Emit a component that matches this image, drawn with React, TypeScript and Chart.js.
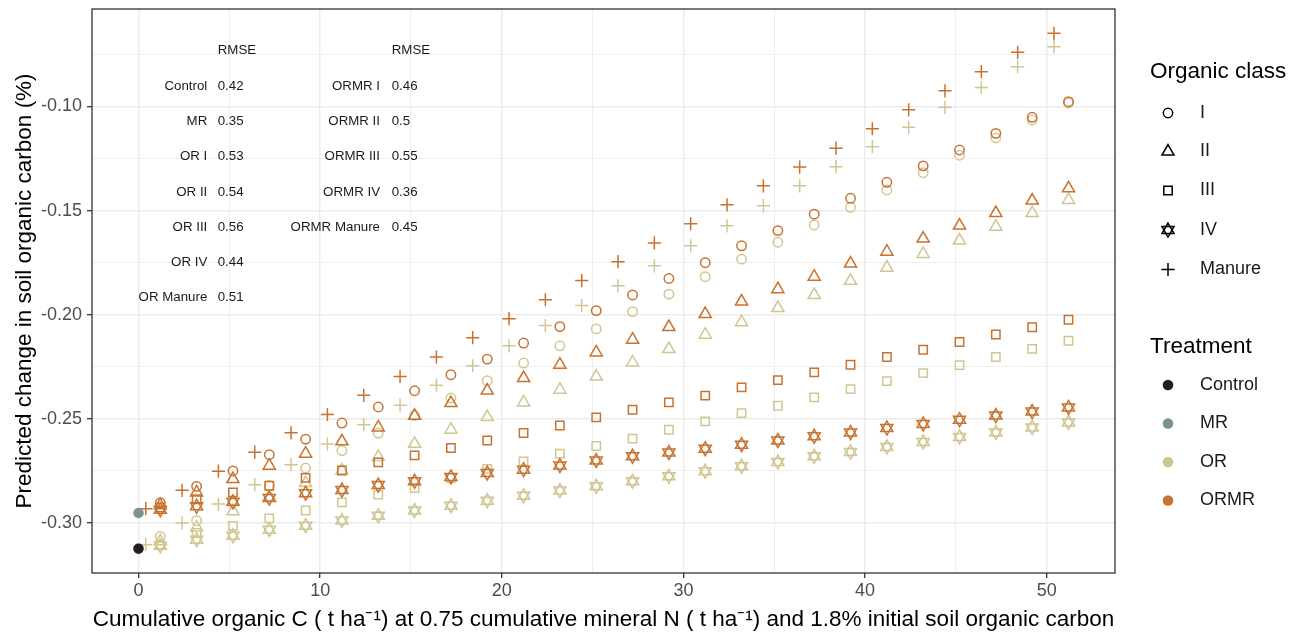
import React, { useEffect, useRef } from "react";
import { Chart, registerables } from "chart.js";

Chart.register(...registerables);

// ---------- data ----------
const xOrganic = [1.2, 3.2, 5.2, 7.2, 9.2, 11.2, 13.2, 15.2, 17.2, 19.2, 21.2, 23.2, 25.2, 27.2, 29.2, 31.2, 33.2, 35.2, 37.2, 39.2, 41.2, 43.2, 45.2, 47.2, 49.2, 51.2];
const xManure = [0.4, 2.4, 4.4, 6.4, 8.4, 10.4, 12.4, 14.4, 16.4, 18.4, 20.4, 22.4, 24.4, 26.4, 28.4, 30.4, 32.4, 34.4, 36.4, 38.4, 40.4, 42.4, 44.4, 46.4, 48.4, 50.4];

const ormrI = [-0.2903, -0.2824, -0.2750, -0.2672, -0.2597, -0.2520, -0.2443, -0.2365, -0.2288, -0.2213, -0.2136, -0.2057, -0.1980, -0.1905, -0.1826, -0.1750, -0.1669, -0.1596, -0.1517, -0.1441, -0.1364, -0.1285, -0.1209, -0.1129, -0.1052, -0.0977];
const orI = [-0.3064, -0.2989, -0.2905, -0.2820, -0.2736, -0.2652, -0.2568, -0.2484, -0.2400, -0.2317, -0.2232, -0.2149, -0.2068, -0.1985, -0.1901, -0.1817, -0.1733, -0.1652, -0.1569, -0.1484, -0.1401, -0.1318, -0.1234, -0.1151, -0.1065, -0.0983];
const ormrII = [-0.2915, -0.2853, -0.2789, -0.2725, -0.2667, -0.2608, -0.2541, -0.2485, -0.2424, -0.2364, -0.2304, -0.2240, -0.2181, -0.2120, -0.2059, -0.1997, -0.1937, -0.1877, -0.1817, -0.1754, -0.1697, -0.1634, -0.1572, -0.1512, -0.1452, -0.1393];
const orII = [-0.3088, -0.3021, -0.2944, -0.2875, -0.2808, -0.2748, -0.2683, -0.2620, -0.2552, -0.2491, -0.2421, -0.2360, -0.2297, -0.2229, -0.2165, -0.2096, -0.2036, -0.1968, -0.1905, -0.1837, -0.1774, -0.1708, -0.1644, -0.1577, -0.1512, -0.1449];
const ormrIII = [-0.2926, -0.2886, -0.2853, -0.2821, -0.2783, -0.2748, -0.2709, -0.2675, -0.2640, -0.2604, -0.2568, -0.2532, -0.2493, -0.2456, -0.2421, -0.2388, -0.2349, -0.2314, -0.2277, -0.2240, -0.2203, -0.2168, -0.2131, -0.2095, -0.2060, -0.2024];
const orIII = [-0.3104, -0.3048, -0.3014, -0.2978, -0.2940, -0.2901, -0.2864, -0.2832, -0.2784, -0.2740, -0.2704, -0.2667, -0.2630, -0.2595, -0.2552, -0.2512, -0.2472, -0.2437, -0.2397, -0.2357, -0.2319, -0.2280, -0.2242, -0.2203, -0.2164, -0.2125];
const ormrIV = [-0.2936, -0.2920, -0.2898, -0.2880, -0.2857, -0.2842, -0.2818, -0.2800, -0.2779, -0.2760, -0.2744, -0.2724, -0.2700, -0.2680, -0.2662, -0.2643, -0.2624, -0.2604, -0.2584, -0.2565, -0.2544, -0.2524, -0.2504, -0.2484, -0.2465, -0.2445];
const orIV = [-0.3109, -0.3080, -0.3061, -0.3032, -0.3013, -0.2988, -0.2965, -0.2940, -0.2917, -0.2893, -0.2869, -0.2844, -0.2824, -0.2800, -0.2776, -0.2752, -0.2728, -0.2707, -0.2680, -0.2659, -0.2635, -0.2611, -0.2587, -0.2565, -0.2541, -0.2517];
const ormrManure = [-0.2931, -0.2843, -0.2751, -0.2660, -0.2567, -0.2479, -0.2387, -0.2296, -0.2203, -0.2110, -0.2019, -0.1928, -0.1836, -0.1745, -0.1655, -0.1563, -0.1472, -0.1381, -0.1291, -0.1200, -0.1107, -0.1016, -0.0925, -0.0833, -0.0740, -0.0649];
const orManure = [-0.3104, -0.3000, -0.2909, -0.2816, -0.2720, -0.2621, -0.2528, -0.2434, -0.2338, -0.2245, -0.2149, -0.2052, -0.1956, -0.1861, -0.1765, -0.1669, -0.1573, -0.1477, -0.1381, -0.1289, -0.1193, -0.1100, -0.1004, -0.0909, -0.0809, -0.0713];

const controlX = [0];
const controlY = [-0.3123];
const mrX = [0];
const mrY = [-0.2952];

const xMajorTicks = [0, 10, 20, 30, 40, 50];
const xMinorTicks = [5, 15, 25, 35, 45];
const yMajorTicks = [-0.3, -0.25, -0.2, -0.15, -0.1];
const yMinorTicks = [-0.275, -0.225, -0.175, -0.125, -0.075];

const rmseLabelsA = ["Control", "MR", "OR I", "OR II", "OR III", "OR IV", "OR Manure"];
const rmseValuesA = ["0.42", "0.35", "0.53", "0.54", "0.56", "0.44", "0.51"];
const rmseLabelsB = ["ORMR I", "ORMR II", "ORMR III", "ORMR IV", "ORMR Manure"];
const rmseValuesB = ["0.46", "0.5", "0.55", "0.36", "0.45"];

const classLabels = ["I", "II", "III", "IV", "Manure"];
const treatmentLabels = ["Control", "MR", "OR", "ORMR"];

// ---------- styles ----------
const FONT = '"Liberation Sans", Arial, Helvetica, sans-serif';
const C_CONTROL = "#241d1c";
const C_MR = "#7b938d";
const C_OR = "#d0c692";
const C_ORMR = "#c8722f";
const treatmentColors = [C_CONTROL, C_MR, C_OR, C_ORMR];

const R_CIRCLE = 4.7;
const R_TRI = 7;
const R_RECT = 5.9;
const R_CROSS = 6.6;
const LW = 1.5;
const TITLE_SIZE = 22.5;
const TEXT_SIZE = 18;

function pts(xs: number[], ys: number[]) {
  return xs.map((x, i) => ({ x, y: ys[i] }));
}

function open(label: string, xs: number[], ys: number[], style: string, color: string, radius: number, rotation = 0) {
  return {
    label,
    data: pts(xs, ys),
    pointStyle: style,
    pointRotation: rotation,
    pointRadius: radius,
    pointHoverRadius: radius,
    pointBorderColor: color,
    pointBackgroundColor: "rgba(0,0,0,0)",
    pointBorderWidth: LW,
    showLine: false,
  };
}

function filled(label: string, xs: number[], ys: number[], color: string) {
  return {
    label,
    data: pts(xs, ys),
    pointStyle: "circle",
    pointRadius: 5,
    pointHoverRadius: 5,
    pointBorderColor: color,
    pointBackgroundColor: color,
    pointBorderWidth: 0.5,
    showLine: false,
  };
}

function drawSymbol(ctx: CanvasRenderingContext2D, kind: string, x: number, y: number) {
  ctx.beginPath();
  if (kind === "circle") {
    ctx.arc(x, y, R_CIRCLE, 0, Math.PI * 2);
  } else if (kind === "triangle" || kind === "tri-down") {
    let rad = kind === "triangle" ? 0 : Math.PI;
    ctx.moveTo(x + Math.sin(rad) * R_TRI, y - Math.cos(rad) * R_TRI);
    rad += (2 * Math.PI) / 3;
    ctx.lineTo(x + Math.sin(rad) * R_TRI, y - Math.cos(rad) * R_TRI);
    rad += (2 * Math.PI) / 3;
    ctx.lineTo(x + Math.sin(rad) * R_TRI, y - Math.cos(rad) * R_TRI);
    ctx.closePath();
  } else if (kind === "rect") {
    const s = R_RECT * Math.SQRT1_2;
    ctx.rect(x - s, y - s, 2 * s, 2 * s);
  } else if (kind === "cross") {
    ctx.moveTo(x - R_CROSS, y);
    ctx.lineTo(x + R_CROSS, y);
    ctx.moveTo(x, y - R_CROSS);
    ctx.lineTo(x, y + R_CROSS);
  }
  ctx.stroke();
}

const overlayPlugin = {
  id: "overlay",
  afterDraw(chart: any) {
    const { ctx, chartArea: a } = chart;
    ctx.save();
    // panel border
    ctx.strokeStyle = "#333333";
    ctx.lineWidth = 1.3;
    ctx.strokeRect(a.left, a.top, a.right - a.left, a.bottom - a.top);

    // RMSE table
    ctx.fillStyle = "#1a1a1a";
    ctx.font = `13.3px ${FONT}`;
    ctx.textBaseline = "middle";
    const rowY0 = 86;
    const rowStep = 35.3;
    ctx.textAlign = "left";
    ctx.fillText("RMSE", 217.7, 50);
    ctx.fillText("RMSE", 391.7, 50);
    rmseLabelsA.forEach((lab, i) => {
      const y = rowY0 + i * rowStep;
      ctx.textAlign = "right";
      ctx.fillText(lab, 207.3, y);
      ctx.textAlign = "left";
      ctx.fillText(rmseValuesA[i], 217.7, y);
    });
    rmseLabelsB.forEach((lab, i) => {
      const y = rowY0 + i * rowStep;
      ctx.textAlign = "right";
      ctx.fillText(lab, 380, y);
      ctx.textAlign = "left";
      ctx.fillText(rmseValuesB[i], 391.7, y);
    });

    // legends
    const symX = 1168;
    const labX = 1200;
    const titleX = 1150;
    ctx.fillStyle = "#000000";
    ctx.textAlign = "left";
    ctx.font = `${TITLE_SIZE}px ${FONT}`;
    ctx.fillText("Organic class", titleX, 72);
    ctx.fillText("Treatment", titleX, 347);

    ctx.font = `${TEXT_SIZE}px ${FONT}`;
    const classY = [113, 151.5, 190.5, 230, 269.5];
    const classKinds = [["circle"], ["triangle"], ["rect"], ["triangle", "tri-down"], ["cross"]];
    ctx.strokeStyle = "#000000";
    ctx.lineWidth = LW;
    classLabels.forEach((lab, i) => {
      classKinds[i].forEach((k) => drawSymbol(ctx, k, symX, classY[i]));
      ctx.fillStyle = "#1a1a1a";
      ctx.fillText(lab, labX, classY[i]);
    });

    const treatY = [385, 423.5, 462, 500.5];
    treatmentLabels.forEach((lab, i) => {
      ctx.fillStyle = treatmentColors[i];
      ctx.beginPath();
      ctx.arc(symX, treatY[i], 5.3, 0, Math.PI * 2);
      ctx.fill();
      ctx.fillStyle = "#1a1a1a";
      ctx.fillText(lab, labX, treatY[i]);
    });
    ctx.restore();
  },
};

export default function App() {
  const ref = useRef<HTMLCanvasElement | null>(null);

  useEffect(() => {
    const canvas = ref.current;
    if (!canvas) return;

    const datasets: any[] = [
      filled("Control", controlX, controlY, C_CONTROL),
      filled("MR", mrX, mrY, C_MR),
      open("ORMR Manure", xManure, ormrManure, "cross", C_ORMR, R_CROSS),
      open("ORMR I", xOrganic, ormrI, "circle", C_ORMR, R_CIRCLE),
      open("ORMR II", xOrganic, ormrII, "triangle", C_ORMR, R_TRI),
      open("ORMR III", xOrganic, ormrIII, "rect", C_ORMR, R_RECT),
      open("ORMR IV", xOrganic, ormrIV, "triangle", C_ORMR, R_TRI),
      open("ORMR IV (down)", xOrganic, ormrIV, "triangle", C_ORMR, R_TRI, 180),
      open("OR Manure", xManure, orManure, "cross", C_OR, R_CROSS),
      open("OR I", xOrganic, orI, "circle", C_OR, R_CIRCLE),
      open("OR II", xOrganic, orII, "triangle", C_OR, R_TRI),
      open("OR III", xOrganic, orIII, "rect", C_OR, R_RECT),
      open("OR IV", xOrganic, orIV, "triangle", C_OR, R_TRI),
      open("OR IV (down)", xOrganic, orIV, "triangle", C_OR, R_TRI, 180),
    ];

    const isMajorX = (v: number) => xMajorTicks.some((t) => Math.abs(t - v) < 1e-9);
    const isMajorY = (v: number) => yMajorTicks.some((t) => Math.abs(t - v) < 1e-9);

    const chart = new Chart(canvas, {
      type: "scatter",
      data: { datasets },
      options: {
        animation: false,
        responsive: false,
        devicePixelRatio: 1,
        layout: { padding: { top: 9, right: 188, bottom: 0, left: 0 } },
        plugins: {
          legend: { display: false },
          tooltip: { enabled: false },
        },
        events: [],
        scales: {
          x: {
            type: "linear",
            min: -2.56,
            max: 53.76,
            afterBuildTicks: (s: any) => {
              s.ticks = [...xMajorTicks, ...xMinorTicks].sort((p, q) => p - q).map((v) => ({ value: v }));
            },
            afterFit: (s: any) => {
              s.height = 61;
              s.paddingLeft = 0;
              s.paddingRight = 0;
            },
            ticks: {
              autoSkip: false,
              maxRotation: 0,
              padding: 2,
              color: "#4d4d4d",
              font: { family: FONT, size: TEXT_SIZE },
              callback: (v: any) => (isMajorX(Number(v)) ? String(v) : ""),
            },
            grid: {
              color: "#ebebeb",
              lineWidth: (c: any) => (c.tick && isMajorX(c.tick.value) ? 1.4 : 0.8),
              tickColor: (c: any) => (c.tick && isMajorX(c.tick.value) ? "#333333" : "rgba(0,0,0,0)"),
              tickLength: 5,
              tickWidth: 1.3,
            },
            border: { display: false },
            title: {
              display: true,
              text: "Cumulative organic C ( t ha\u207B\u00B9) at 0.75 cumulative mineral N ( t ha\u207B\u00B9) and 1.8% initial soil organic carbon",
              color: "#000000",
              font: { family: FONT, size: TITLE_SIZE },
              padding: { top: 0, bottom: 1 },
            },
          },
          y: {
            type: "linear",
            min: -0.324,
            max: -0.0532,
            afterBuildTicks: (s: any) => {
              s.ticks = [...yMajorTicks, ...yMinorTicks].sort((p, q) => p - q).map((v) => ({ value: v }));
            },
            afterFit: (s: any) => {
              s.width = 92;
              s.paddingTop = 0;
              s.paddingBottom = 0;
            },
            ticks: {
              autoSkip: false,
              padding: 5,
              color: "#4d4d4d",
              font: { family: FONT, size: TEXT_SIZE },
              callback: (v: any) => (isMajorY(Number(v)) ? Number(v).toFixed(2) : ""),
            },
            grid: {
              color: "#ebebeb",
              lineWidth: (c: any) => (c.tick && isMajorY(c.tick.value) ? 1.4 : 0.8),
              tickColor: (c: any) => (c.tick && isMajorY(c.tick.value) ? "#333333" : "rgba(0,0,0,0)"),
              tickLength: 5,
              tickWidth: 1.3,
            },
            border: { display: false },
            title: {
              display: true,
              text: "Predicted change in soil organic carbon (%)",
              color: "#000000",
              font: { family: FONT, size: TITLE_SIZE },
              padding: { top: 11, bottom: 0 },
            },
          },
        },
      },
      plugins: [overlayPlugin],
    } as any);

    return () => chart.destroy();
  }, []);

  return (
    <div style={{ position: "fixed", left: 0, top: 0, width: 1303, height: 634, background: "#ffffff" }}>
      <canvas ref={ref} width={1303} height={634} style={{ display: "block" }} />
    </div>
  );
}
